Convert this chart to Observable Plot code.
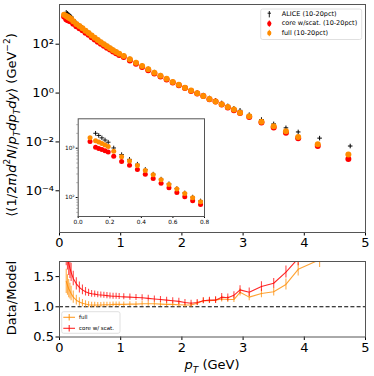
<!DOCTYPE html>
<html><head><meta charset="utf-8">
<script src="https://cdn.jsdelivr.net/npm/d3@7"></script>
<script src="https://cdn.jsdelivr.net/npm/@observablehq/plot@0.6"></script>
<style>
body{margin:0;background:white;}
#fig{position:relative;width:374px;height:376px;background:white;font-family:"DejaVu Sans",sans-serif;}
#fig svg{position:absolute;overflow:visible;}
</style></head><body><div id="fig"></div>
<script>
// ALICE bin centres (GeV)
const pT = [0.11,0.13,0.15,0.17,0.19,0.225,0.275,0.325,0.375,0.425,0.475,0.525,0.575,0.625,0.675,0.725,0.775,0.825,0.875,0.925,0.975,1.05,1.15,1.25,1.35,1.45,1.55,1.65,1.75,1.85,1.95,2.05,2.15,2.25,2.35,2.45,2.55,2.65,2.75,2.85,2.95,3.1,3.3,3.5,3.7,3.9,4.25,4.75];
// ALICE spectrum (10-20%)
const alice = [2006,1814,1619,1463,1322,1010,741,594,474,371,298,236,190,152,124,102,85.1,70.8,59.2,49.8,41.9,34.4,25.1,18.2,13.3,9.80,7.18,5.36,4.00,2.96,2.27,1.71,1.30,1.036,0.825,0.626,0.496,0.392,0.298,0.236,0.196,0.130,0.0825,0.0546,0.0377,0.0256,0.0143,0.0068];
// model pT points
const pTModel = [0.075,0.11,0.13,0.15,0.17,0.19,0.225,0.275,0.325,0.375,0.425,0.475,0.525,0.575,0.625,0.675,0.725,0.775,0.825,0.875,0.925,0.975,1.05,1.15,1.25,1.35,1.45,1.55,1.65,1.75,1.85,1.95,2.05,2.15,2.25,2.35,2.45,2.55,2.65,2.75,2.85,2.95,3.1,3.3,3.5,3.7,3.9,4.22,4.72];
const full = [1622,1413,1334,1245,1161,1084,871,668,550,447,355,288,229,184,148,120,98.9,82.2,68.4,56.9,47.9,40.3,33.1,24.0,17.4,12.7,9.33,6.84,5.13,3.85,2.85,2.19,1.66,1.26,0.977,0.750,0.569,0.447,0.347,0.266,0.211,0.158,0.112,0.0676,0.0437,0.0275,0.0158,0.00813,0.00309];
const core = [1368,1040,990,940,890,840,687,537,450,370,297,242,194,157,127,103.4,86.0,71.8,60.0,50.4,42.4,35.8,29.6,21.6,15.7,11.6,8.59,6.35,4.79,3.61,2.69,2.08,1.60,1.22,0.968,0.750,0.564,0.447,0.338,0.259,0.199,0.153,0.105,0.0618,0.0393,0.0239,0.0142,0.00681,0.0020];
// Data/Model ratios
const ratioFull = [1.42,1.36,1.30,1.26,1.22,1.16,1.11,1.08,1.06,1.045,1.035,1.03,1.03,1.03,1.03,1.035,1.035,1.035,1.04,1.04,1.04,1.04,1.045,1.045,1.05,1.05,1.05,1.045,1.04,1.04,1.035,1.03,1.03,1.06,1.10,1.10,1.11,1.13,1.12,1.12,1.24,1.16,1.22,1.25,1.37,1.62,1.78,2.2];
const ratioFullErr = [0.2,0.17,0.15,0.13,0.12,0.1,0.08,0.07,0.06,0.055,0.05,0.045,0.045,0.04,0.04,0.04,0.04,0.04,0.04,0.04,0.04,0.04,0.04,0.04,0.04,0.04,0.04,0.04,0.04,0.04,0.04,0.04,0.04,0.04,0.045,0.045,0.05,0.05,0.05,0.05,0.06,0.06,0.07,0.07,0.09,0.11,0.13,0.2];
const ratioCore = [1.93,1.83,1.72,1.64,1.57,1.47,1.38,1.32,1.28,1.25,1.23,1.215,1.21,1.2,1.195,1.19,1.185,1.18,1.175,1.175,1.17,1.165,1.16,1.155,1.15,1.14,1.13,1.12,1.11,1.10,1.09,1.07,1.06,1.07,1.10,1.11,1.11,1.16,1.15,1.19,1.28,1.24,1.335,1.39,1.575,1.80,2.1,3.4];
const ratioCoreErr = [0.25,0.22,0.2,0.17,0.15,0.12,0.1,0.09,0.08,0.07,0.06,0.055,0.05,0.05,0.05,0.05,0.05,0.05,0.05,0.05,0.05,0.05,0.05,0.05,0.05,0.05,0.05,0.05,0.05,0.05,0.05,0.05,0.05,0.05,0.05,0.05,0.055,0.06,0.06,0.06,0.07,0.07,0.08,0.08,0.1,0.12,0.15,0.3];
// ticks
const xTicks = [0,1,2,3,4,5];
const yTicksMain = [1e-4,1e-2,1,1e2];
const yTickLabelsMain = ["10\u207B\u2074","10\u207B\u00B2","10\u2070","10\u00B2"];
const insetXTicks = [0,0.2,0.4,0.6,0.8];
const insetYTicks = [100,1000];
const insetYTickLabels = ["10\u00B2","10\u00B3"];
const insetMinor = [30,40,50,60,70,80,90,200,300,400,500,600,700,800,900,2000,3000];
const ratioYTicks = [0.5,1.0,1.5];
const legendMain = ["ALICE (10-20pct)","core w/scat. (10-20pct)","full (10-20pct)"];
const legendRatio = ["full","core w/ scat."];

const RED = "#ff0000", ORANGE = "#ff8c00", SPINE = "#555";
const FONT = "DejaVu Sans";
const lab = (ticks, labels) => d => labels[ticks.findIndex(t => Math.abs(t - d) / t < 1e-6)];

const aliceRows = pT.map((x,i)=>({pT:x, v:alice[i]}));
const modelRows = pTModel.map((x,i)=>({pT:x, full:full[i], core:core[i]}));
const ratioRows = pT.map((x,i)=>({pT:x, rf:ratioFull[i], rfe:ratioFullErr[i], rc:ratioCore[i], rce:ratioCoreErr[i]}));

const fig = document.getElementById("fig");

// ---------- main panel ----------
const main = Plot.plot({
  width:374, height:250, marginLeft:59, marginRight:9, marginTop:4, marginBottom:18,
  style:{fontFamily:FONT, fontSize:"13px", background:"transparent", overflow:"visible"},
  x:{domain:[0,5], ticks:xTicks, tickSize:3.5, tickPadding:2, label:null, tickFormat:d=>String(d)},
  y:{type:"log", domain:[10**-5.707, 10**3.625], ticks:yTicksMain, tickSize:3.5, tickPadding:2, label:null, tickFormat:lab(yTicksMain, yTickLabelsMain)},
  marks:[
    Plot.frame({stroke:SPINE}),
    Plot.dot(aliceRows,{x:"pT", y:"v", symbol:"plus", r:1.6, stroke:"black", strokeWidth:1}),
    Plot.dot(modelRows,{x:"pT", y:"core", r:3, fill:RED}),
    Plot.dot(modelRows,{x:"pT", y:"full", r:3, fill:ORANGE})
  ]
});
main.style.left="0px"; main.style.top="0px";
fig.appendChild(main);

const ms = d3.select(main);
// y label
const yl = ms.append("text").attr("transform","translate(12,125) rotate(-90)")
  .attr("text-anchor","middle").attr("dominant-baseline","middle")
  .attr("font-family",FONT).attr("font-size",13).attr("fill","black");
const parts = [
  ["\u27E8(1/2",""],["\u03C0","i"],[")",""],["d","i"],["2","sup"],["N","i"],["/",""],["p","i"],["T","sub"],
  ["dp","i"],["T","sub"],["dy","i"],["\u27E9 (GeV",""],["\u22122","sup"],[")",""]
];
for (const [t,s] of parts) {
  const ts = yl.append("tspan").text(t);
  if (s==="i") ts.attr("font-style","italic");
  if (s==="sup") ts.attr("baseline-shift","super").attr("font-size",9);
  if (s==="sub") ts.attr("baseline-shift","sub").attr("font-size",9).attr("font-style","italic");
}
// legend
const lg = ms.append("g").attr("font-family",FONT).attr("font-size",6.5).attr("text-anchor","start");
lg.append("rect").attr("x",260.7).attr("y",9).attr("width",101).attr("height",30.5).attr("rx",2)
  .attr("fill","white").attr("stroke","#d8d8d8").attr("stroke-width",0.8);
const ly = [14.2, 23.6, 33];
const lc = ["black", RED, ORANGE];
legendMain.forEach((t,i)=>{
  const g = lg.append("g");
  g.append("line").attr("x1",269.3).attr("x2",269.3).attr("y1",ly[i]-3.2).attr("y2",ly[i]+3.2).attr("stroke",lc[i]).attr("stroke-width",0.9);
  if (i===0) {
    g.append("line").attr("x1",267.6).attr("x2",271).attr("y1",ly[i]-1).attr("y2",ly[i]-1).attr("stroke","black").attr("stroke-width",0.9);
  } else {
    g.append("ellipse").attr("cx",269.3).attr("cy",ly[i]).attr("rx",2.1).attr("ry",2.6).attr("fill",lc[i]);
  }
  g.append("text").attr("x",281.7).attr("y",ly[i]).attr("dominant-baseline","middle").attr("text-anchor","start").attr("fill","black").text(t);
});

// ---------- inset ----------
const insetAlice = aliceRows.filter(d=>d.pT<=0.8);
const insetModel = modelRows.filter(d=>d.pT<=0.8);
const inset = Plot.plot({
  width:374, height:250, marginLeft:77.7, marginRight:170, marginTop:118.3, marginBottom:34,
  style:{fontFamily:FONT, fontSize:"5.8px", background:"transparent", overflow:"visible"},
  x:{domain:[0,0.8], ticks:insetXTicks, tickSize:2, tickPadding:1.5, label:null, tickFormat:d=>d.toFixed(1)},
  y:{type:"log", domain:[10**1.615, 10**3.596], ticks:insetYTicks, tickSize:2, tickPadding:1.5, label:null, tickFormat:lab(insetYTicks, insetYTickLabels)},
  marks:[
    Plot.frame({fill:"white", stroke:SPINE}),
    Plot.ruleY(insetMinor.filter(v=>v>10**1.615 && v<10**3.596),{y:d=>d, x1:-0.008, x2:0, stroke:SPINE, strokeWidth:0.6}),
    Plot.dot(insetAlice,{x:"pT", y:"v", symbol:"plus", r:1.6, stroke:"black", strokeWidth:0.9}),
    Plot.dot(insetModel,{x:"pT", y:"core", r:2.5, fill:RED}),
    Plot.dot(insetModel,{x:"pT", y:"full", r:2.5, fill:ORANGE})
  ]
});
inset.style.left="0px"; inset.style.top="0px";
fig.appendChild(inset);

// ---------- ratio panel ----------
const ratio = Plot.plot({
  width:374, height:126, marginLeft:59, marginRight:9, marginTop:11, marginBottom:39.5,
  style:{fontFamily:FONT, fontSize:"13px", background:"transparent", overflow:"visible"},
  x:{domain:[0,5], ticks:xTicks, tickSize:3.5, tickPadding:2, label:null, tickFormat:d=>String(d)},
  y:{domain:[0.5,1.75], ticks:ratioYTicks, tickSize:3.5, tickPadding:2, label:null, tickFormat:d=>d.toFixed(1)},
  marks:[
    Plot.ruleY([1],{stroke:"black", strokeWidth:1.1, strokeDasharray:"4,2.2"}),
    Plot.line(ratioRows,{x:"pT", y:"rf", stroke:ORANGE, strokeOpacity:0.8, strokeWidth:1.1, clip:true}),
    Plot.ruleX(ratioRows,{x:"pT", y1:d=>d.rf-d.rfe, y2:d=>d.rf+d.rfe, stroke:ORANGE, strokeOpacity:0.7, strokeWidth:1.1, clip:true}),
    Plot.line(ratioRows,{x:"pT", y:"rc", stroke:RED, strokeOpacity:0.85, strokeWidth:1.1, clip:true}),
    Plot.ruleX(ratioRows,{x:"pT", y1:d=>d.rc-d.rce, y2:d=>d.rc+d.rce, stroke:RED, strokeOpacity:0.7, strokeWidth:1.1, clip:true}),
    Plot.frame({stroke:SPINE})
  ]
});
ratio.style.left="0px"; ratio.style.top="250px";
fig.appendChild(ratio);
const rs = d3.select(ratio);
rs.append("text").attr("transform","translate(12,48) rotate(-90)").attr("text-anchor","middle")
  .attr("dominant-baseline","middle").attr("font-family",FONT).attr("font-size",13).attr("fill","black").text("Data/Model");
const xl = rs.append("text").attr("x",212).attr("y",115).attr("text-anchor","middle").attr("dominant-baseline","middle")
  .attr("font-family",FONT).attr("font-size",13).attr("fill","black");
xl.append("tspan").attr("font-style","italic").text("p");
xl.append("tspan").attr("font-style","italic").attr("font-size",9).attr("baseline-shift","sub").text("T");
xl.append("tspan").text(" (GeV)");
// ratio legend
const rl = rs.append("g").attr("font-family",FONT).attr("font-size",5.5).attr("text-anchor","start");
rl.append("rect").attr("x",61.7).attr("y",61.7).attr("width",58.3).attr("height",21.6).attr("rx",2)
  .attr("fill","white").attr("stroke","#d8d8d8").attr("stroke-width",0.8);
const rly = [67.3, 78.3];
const rlc = [ORANGE, RED];
legendRatio.forEach((t,i)=>{
  rl.append("line").attr("x1",63.3).attr("x2",75).attr("y1",rly[i]).attr("y2",rly[i]).attr("stroke",rlc[i]).attr("stroke-width",1.1).attr("stroke-opacity",0.85);
  rl.append("line").attr("x1",69.2).attr("x2",69.2).attr("y1",rly[i]-3.2).attr("y2",rly[i]+3.2).attr("stroke",rlc[i]).attr("stroke-width",1.1).attr("stroke-opacity",0.85);
  rl.append("text").attr("x",79).attr("y",rly[i]).attr("dominant-baseline","middle").attr("text-anchor","start").attr("fill","black").text(t);
});
</script></body></html>
